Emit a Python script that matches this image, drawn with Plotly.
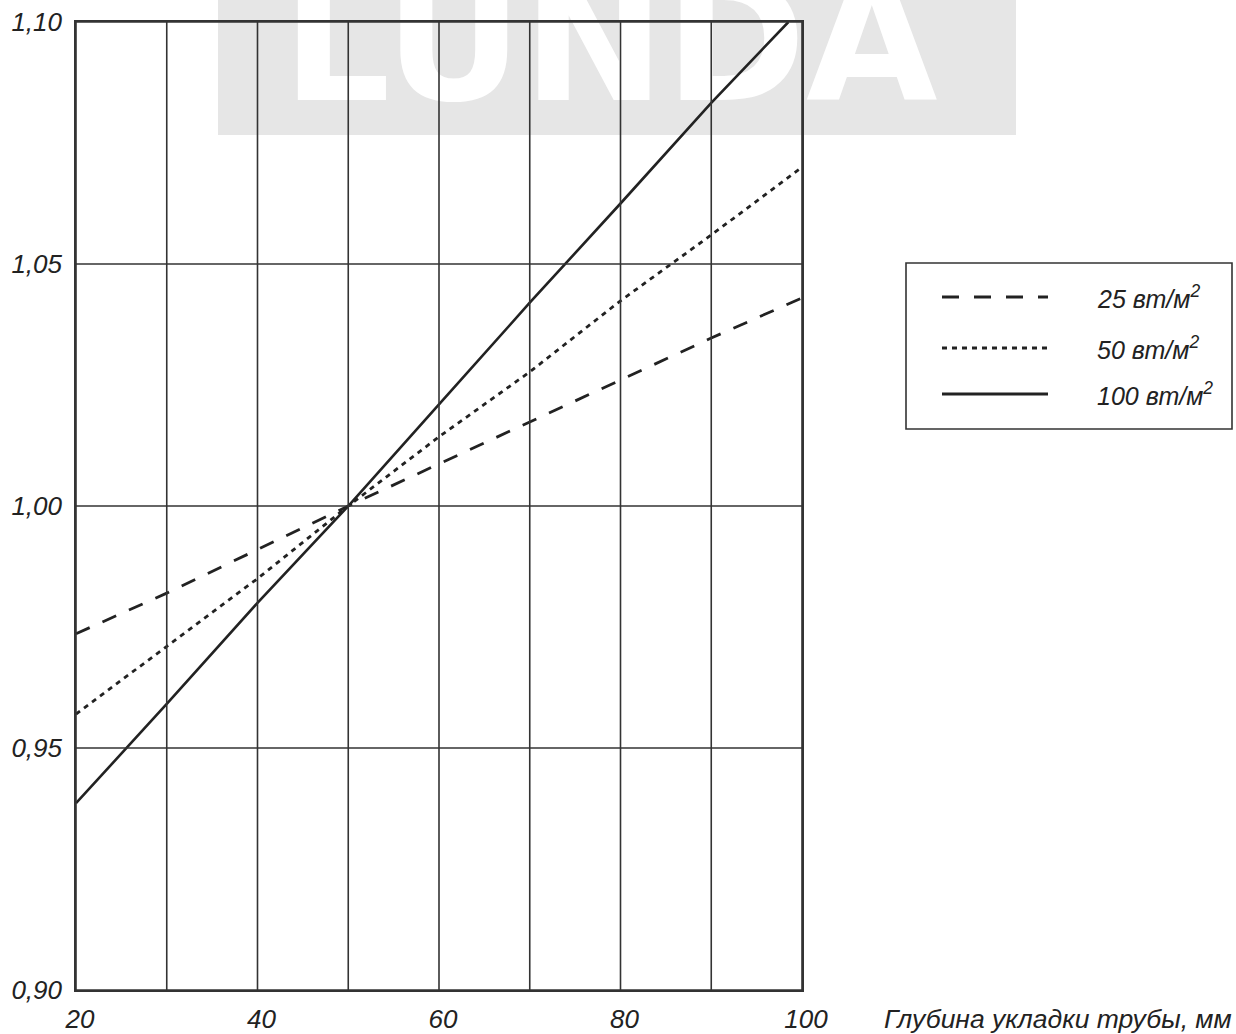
import plotly.graph_objects as go

# ---------------- data ----------------
depth_mm = [20, 30, 40, 50, 60, 70, 80, 90, 100]
depth_mm_100 = [20, 30, 40, 50, 60, 70, 80, 90, 98.5]
k_25 = [0.9736, 0.982, 0.991, 1.0, 1.0087, 1.0174, 1.026, 1.0347, 1.043]
k_50 = [0.957, 0.971, 0.985, 1.0, 1.0143, 1.0277, 1.0424, 1.056, 1.07]
k_100 = [0.9386, 0.9591, 0.98, 1.0, 1.021, 1.042, 1.0625, 1.0833, 1.10]

series_labels = ["25 вт/м<sup>2</sup>", "50 вт/м<sup>2</sup>", "100 вт/м<sup>2</sup>"]

x_grid = [20, 30, 40, 50, 60, 70, 80, 90, 100]
x_tickvals = [20, 40, 60, 80, 100]
x_ticktext = ["20", "40", "60", "80", "100"]
y_tickvals = [0.90, 0.95, 1.00, 1.05, 1.10]
y_ticktext = ["0,90", "0,95", "1,00", "1,05", "1,10"]
x_title = "Глубина укладки трубы, мм"
watermark = "LUNDA"

# ---------------- geometry / style ----------------
W, H = 1236, 1034
L, R, T, B = 76, 802, 22, 990
X_RANGE = [20, 100]
Y_RANGE = [0.90, 1.10]
FONT = "Liberation Sans"
INK = "#222222"
GRID = "#333333"


def pxx(px):
    return (px - L) / (R - L)


def pyy(py):
    return (B - py) / (B - T)


def data_x(px):
    return X_RANGE[0] + (px - L) / (R - L) * (X_RANGE[1] - X_RANGE[0])


def data_y(py):
    return Y_RANGE[0] + (B - py) / (B - T) * (Y_RANGE[1] - Y_RANGE[0])


fig = go.Figure()

# watermark text (white letters on grey band)
fig.add_trace(go.Scatter(
    x=[data_x(610)], y=[data_y(57)], mode="text", text=[watermark],
    textfont=dict(family="DejaVu Sans", size=170, color="white", weight="bold"),
    textposition="middle center", cliponaxis=False, showlegend=False, hoverinfo="skip",
))

styles = [
    dict(dash="15px,14px", width=2.8),
    dict(dash="5px,5px", width=2.8),
    dict(dash="solid", width=2.6),
]
xs = [depth_mm, depth_mm, depth_mm_100]
ys = [k_25, k_50, k_100]
for xv, yv, st, name in zip(xs, ys, styles, series_labels):
    fig.add_trace(go.Scatter(
        x=xv, y=yv, mode="lines", name=name,
        line=dict(color=INK, width=st["width"], dash=st["dash"]),
        showlegend=False,
    ))

shapes = []
# grey watermark band
shapes.append(dict(type="rect", xref="paper", yref="paper",
                   x0=pxx(218), x1=pxx(1016), y0=pyy(135), y1=pyy(-2),
                   fillcolor="#e6e6e6", line=dict(width=0), layer="below"))
# grid lines (above the watermark letters)
for xv in x_grid:
    shapes.append(dict(type="line", xref="x", yref="y", x0=xv, x1=xv,
                       y0=Y_RANGE[0], y1=Y_RANGE[1],
                       line=dict(color=GRID, width=1.6), layer="above"))
for yv in y_tickvals:
    shapes.append(dict(type="line", xref="x", yref="y", x0=X_RANGE[0], x1=X_RANGE[1],
                       y0=yv, y1=yv, line=dict(color=GRID, width=1.6), layer="above"))

# manual legend
shapes.append(dict(type="rect", xref="paper", yref="paper",
                   x0=pxx(906), x1=pxx(1232), y0=pyy(429), y1=pyy(263),
                   line=dict(color=GRID, width=1.6), fillcolor="rgba(0,0,0,0)"))
legend_rows = [297, 348, 394]
legend_dash = ["17px,15px", "5px,5px", "solid"]
annotations = []
for row, dsh, name in zip(legend_rows, legend_dash, series_labels):
    shapes.append(dict(type="line", xref="paper", yref="paper",
                       x0=pxx(942), x1=pxx(1048), y0=pyy(row), y1=pyy(row),
                       line=dict(color=INK, width=3, dash=dsh)))
    annotations.append(dict(xref="paper", yref="paper", x=pxx(1095), y=pyy(row),
                            xanchor="left", yanchor="middle", text=name, showarrow=False,
                            font=dict(family=FONT, size=25, color=INK, style="italic")))

annotations.append(dict(xref="paper", yref="paper", x=pxx(882), y=pyy(1019),
                        xanchor="left", yanchor="middle", text=x_title, showarrow=False,
                        font=dict(family=FONT, size=26.5, color=INK, style="italic")))

fig.update_layout(
    width=W, height=H,
    margin=dict(l=L, r=W - R, t=T, b=H - B, autoexpand=False),
    paper_bgcolor="white", plot_bgcolor="rgba(0,0,0,0)",
    template="none",
    shapes=shapes, annotations=annotations,
    showlegend=False,
    xaxis=dict(range=X_RANGE, tickvals=x_tickvals, ticktext=x_ticktext,
               showgrid=False, zeroline=False, showline=True, mirror=True,
               linecolor=GRID, linewidth=1.6, ticks="", automargin=False,
               ticklabelstandoff=5, ticklabelshift=4,
               tickfont=dict(family=FONT, size=26, color=INK, style="italic")),
    yaxis=dict(range=Y_RANGE, tickvals=y_tickvals, ticktext=y_ticktext,
               showgrid=False, zeroline=False, showline=True, mirror=True,
               linecolor=GRID, linewidth=1.6, ticks="", automargin=False,
               ticklabelstandoff=7,
               tickfont=dict(family=FONT, size=26, color=INK, style="italic")),
)

fig.write_html(
    "out.html",
    config={"displayModeBar": False},
    post_script="document.body.style.margin='0';document.body.style.padding='0';",
)
